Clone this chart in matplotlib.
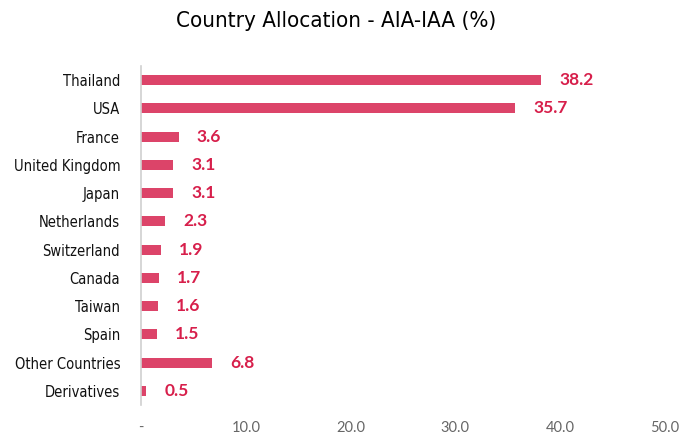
import matplotlib.pyplot as plt
import numpy as np

# country allocation values (%)
countries = ['Thailand', 'USA', 'France', 'United Kingdom', 'Japan', 'Netherlands',
             'Switzerland', 'Canada', 'Taiwan', 'Spain', 'Other Countries', 'Derivatives']
weights = [38.2, 35.7, 3.6, 3.1, 3.1, 2.3, 1.9, 1.7, 1.6, 1.5, 6.8, 0.5]
xticks = [0, 10, 20, 30, 40, 50]
xtick_labels = ['-', '10.0', '20.0', '30.0', '40.0', '50.0']

bar_color = '#dc4469'
label_color = '#d71f4b'

fig = plt.figure(figsize=(6.94, 4.36), dpi=100)
ax = fig.add_axes([141 / 694, 1 - 405 / 436, (665 - 141) / 694, (405 - 66) / 436])

y = np.arange(len(countries))
ax.barh(y, weights, height=0.36, color=bar_color)
ax.set_ylim(len(countries) - 0.5, -0.5)
ax.set_xlim(0, 50)

for yi, w in zip(y, weights):
    ax.annotate(f'{w:.1f}', (w, yi), xytext=(13, 0), textcoords='offset points',
                va='center', ha='left', fontsize=12.5, fontweight='bold',
                color=label_color, family='Lato')

ax.set_yticks(y)
ax.set_yticklabels(countries, family='DejaVu Sans', stretch='condensed',
                   fontsize=10.5, color='#111111')
ax.set_xticks(xticks)
ax.set_xticklabels(xtick_labels, family='Lato', fontsize=10.5, color='#666666')
ax.tick_params(axis='both', length=0)
ax.tick_params(axis='x', pad=11.5)
ax.tick_params(axis='y', pad=15)

for s in ['top', 'right', 'bottom']:
    ax.spines[s].set_visible(False)
ax.spines['left'].set_color('#d0d0d0')
ax.spines['left'].set_linewidth(1.2)

fig.suptitle('Country Allocation - AIA-IAA (%)', x=336 / 694, y=1 - 21 / 436, va='center',
             family='DejaVu Sans', stretch='condensed', fontsize=16)

fig.savefig('out.png', dpi=100)
